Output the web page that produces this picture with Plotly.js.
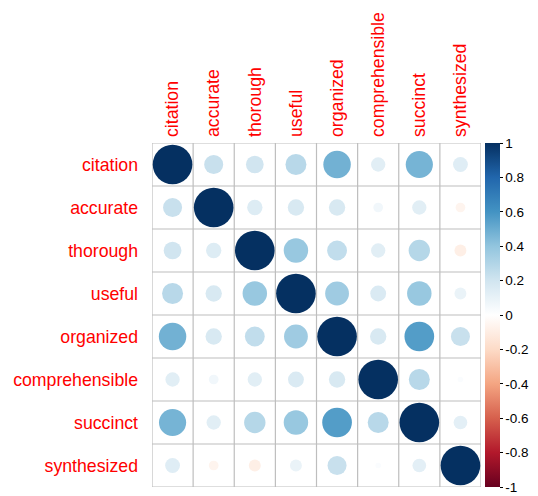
<!DOCTYPE html>
<html><head><meta charset="utf-8">
<script src="https://cdn.plot.ly/plotly-3.0.1.min.js"></script>
<style>html,body{margin:0;padding:0;background:#fff}</style>
</head><body><div id="chart" style="width:538px;height:496px"></div>
<script>
var labels = ["citation","accurate","thorough","useful","organized","comprehensible","succinct","synthesized"];
var rowCitation       = [1.00, 0.23, 0.20, 0.28, 0.48, 0.13, 0.47, 0.14];
var rowAccurate       = [0.23, 1.00, 0.15, 0.17, 0.17, 0.06, 0.13, -0.06];
var rowThorough       = [0.20, 0.15, 1.00, 0.38, 0.25, 0.13, 0.29, -0.09];
var rowUseful         = [0.28, 0.17, 0.38, 1.00, 0.36, 0.16, 0.38, 0.09];
var rowOrganized      = [0.48, 0.17, 0.25, 0.36, 1.00, 0.17, 0.56, 0.23];
var rowComprehensible = [0.13, 0.06, 0.13, 0.16, 0.17, 1.00, 0.28, 0.02];
var rowSuccinct       = [0.47, 0.13, 0.29, 0.38, 0.56, 0.28, 1.00, 0.12];
var rowSynthesized    = [0.14, -0.06, -0.09, 0.09, 0.23, 0.02, 0.12, 1.00];
var matrix = [rowCitation,rowAccurate,rowThorough,rowUseful,rowOrganized,rowComprehensible,rowSuccinct,rowSynthesized];
var cbTicks = [-1,-0.8,-0.6,-0.4,-0.2,0,0.2,0.4,0.6,0.8,1];
var cbText = ["-1","-0.8","-0.6","-0.4","-0.2","0","0.2","0.4","0.6","0.8","1"];

var palette = ["#67001F","#B2182B","#D6604D","#F4A582","#FDDBC7","#FFFFFF","#D1E5F0","#92C5DE","#4393C3","#2166AC","#053061"];
var cscale = palette.map(function(c,i){return [i/(palette.length-1), c];});

var n = labels.length;
var xs=[], ys=[], vals=[], sizes=[];
var cellPx = 43.1;
for (var i=0;i<n;i++){
  for (var j=0;j<n;j++){
    xs.push(j+1); ys.push(i+1);
    var v = matrix[i][j];
    vals.push(v);
    sizes.push(0.92*cellPx*Math.sqrt(Math.abs(v)));
  }
}
var shapes=[];
for (var k=0;k<=n;k++){
  shapes.push({type:'line',xref:'x',yref:'y',x0:k+0.5,x1:k+0.5,y0:0.5,y1:n+0.5,line:{color:'#BEBEBE',width:1.2},layer:'below'});
  shapes.push({type:'line',xref:'x',yref:'y',y0:k+0.5,y1:k+0.5,x0:0.5,x1:n+0.5,line:{color:'#BEBEBE',width:1.2},layer:'below'});
}
var trace = {
  type:'scatter', mode:'markers', x:xs, y:ys,
  marker:{size:sizes, sizemode:'diameter', opacity:1, color:vals, cmin:-1, cmax:1, colorscale:cscale,
    line:{width:0},
    colorbar:{x:1.012, xanchor:'left', y:0.5, yanchor:'middle', len:1, lenmode:'fraction', thickness:15,
      outlinewidth:0, tickvals:cbTicks, ticktext:cbText, ticks:'outside', ticklen:3, tickcolor:'#000',
      tickfont:{family:'Liberation Sans, Arial, sans-serif', size:13.5, color:'#000'}, xpad:0, ypad:0}
  },
  hoverinfo:'skip', showlegend:false
};
var layout = {
  width:538, height:496,
  margin:{l:152, r:41.5, t:142.5, b:9},
  paper_bgcolor:'#fff', plot_bgcolor:'#fff',
  xaxis:{range:[0.5,n+0.5], side:'top', tickvals:labels.map(function(_,i){return i+1;}), ticktext:labels,
    tickangle:-90, ticklabelstandoff:5, tickfont:{family:'Liberation Sans, Arial, sans-serif', size:17.7, color:'#FF0000'},
    showgrid:false, zeroline:false, showline:false, ticks:'', fixedrange:true},
  yaxis:{range:[n+0.5,0.5], tickvals:labels.map(function(_,i){return i+1;}), ticktext:labels,
    ticklabelstandoff:13, tickfont:{family:'Liberation Sans, Arial, sans-serif', size:17.7, color:'#FF0000'},
    showgrid:false, zeroline:false, showline:false, ticks:'', fixedrange:true},
  shapes:shapes
};
Plotly.newPlot('chart',[trace],layout,{displayModeBar:false, staticPlot:true});
</script></body></html>
